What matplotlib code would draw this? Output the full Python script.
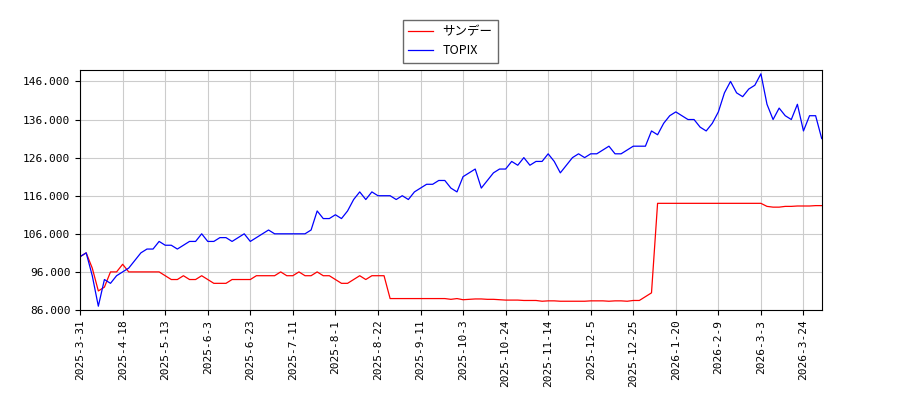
import matplotlib
matplotlib.use("Agg")
import matplotlib.pyplot as plt
import numpy as np

plt.rcParams['font.family'] = ['Noto Sans CJK JP', 'DejaVu Sans']

tick_labels = ["2025-3-31", "2025-4-18", "2025-5-13", "2025-6-3", "2025-6-23", "2025-7-11",
               "2025-8-1", "2025-8-22", "2025-9-11", "2025-10-3", "2025-10-24", "2025-11-14",
               "2025-12-5", "2025-12-25", "2026-1-20", "2026-2-9", "2026-3-3", "2026-3-24"]

sunday = [100, 101, 97, 91, 92, 96, 96, 98, 96, 96,
          96, 96, 96, 96, 95, 94, 94, 95, 94, 94,
          95, 94, 93, 93, 93, 94, 94, 94, 94, 95,
          95, 95, 95, 96, 95, 95, 96, 95, 95, 96,
          95, 95, 94, 93, 93, 94, 95, 94, 95, 95,
          95, 89, 89, 89, 89, 89, 89, 89, 89, 89,
          89, 88.8, 89, 88.7, 88.8, 88.9, 88.9, 88.8, 88.8, 88.7,
          88.6, 88.6, 88.6, 88.5, 88.5, 88.5, 88.3, 88.4, 88.4, 88.3,
          88.3, 88.3, 88.3, 88.3, 88.4, 88.4, 88.4, 88.3, 88.4, 88.4,
          88.3, 88.5, 88.5, 89.5, 90.5, 114, 114, 114, 114, 114,
          114, 114, 114, 114, 114, 114, 114, 114, 114, 114,
          114, 114, 114, 113.2, 113, 113, 113.2, 113.2, 113.3, 113.3,
          113.3, 113.4, 113.4]

topix = [100, 101, 95, 87, 94, 93, 95, 96, 97, 99,
         101, 102, 102, 104, 103, 103, 102, 103, 104, 104,
         106, 104, 104, 105, 105, 104, 105, 106, 104, 105,
         106, 107, 106, 106, 106, 106, 106, 106, 107, 112,
         110, 110, 111, 110, 112, 115, 117, 115, 117, 116,
         116, 116, 115, 116, 115, 117, 118, 119, 119, 120,
         120, 118, 117, 121, 122, 123, 118, 120, 122, 123,
         123, 125, 124, 126, 124, 125, 125, 127, 125, 122,
         124, 126, 127, 126, 127, 127, 128, 129, 127, 127,
         128, 129, 129, 129, 133, 132, 135, 137, 138, 137,
         136, 136, 134, 133, 135, 138, 143, 146, 143, 142,
         144, 145, 148, 140, 136, 139, 137, 136, 140, 133,
         137, 137, 131]

x = np.arange(len(topix))

fig = plt.figure(figsize=(9, 4), dpi=100)
ax = fig.add_axes([0.089, 0.225, 0.824, 0.6])
ax.plot(x, sunday, color='red', lw=0.9, label='サンデー')
ax.plot(x, topix, color='blue', lw=0.9, label='TOPIX')

ax.set_xlim(0, len(x) - 1)
ax.set_ylim(86, 149)
ax.set_yticks(np.arange(86, 147, 10))
ax.set_yticklabels([f"{v:.3f}" for v in np.arange(86, 147, 10)], fontsize=8,
                   family='DejaVu Sans Mono')
ax.set_xticks(np.arange(0, 7 * len(tick_labels), 7))
ax.set_xticklabels(tick_labels, rotation=90, fontsize=8, family='DejaVu Sans Mono')
ax.grid(True, color='#cccccc', lw=0.8)

fig.legend(loc='upper center', bbox_to_anchor=(0.5, 0.965), fontsize=9, fancybox=False,
           edgecolor='#444444', prop={'family': ['Noto Sans CJK JP', 'DejaVu Sans Mono'], 'size': 9})
fig.savefig("out.png")
